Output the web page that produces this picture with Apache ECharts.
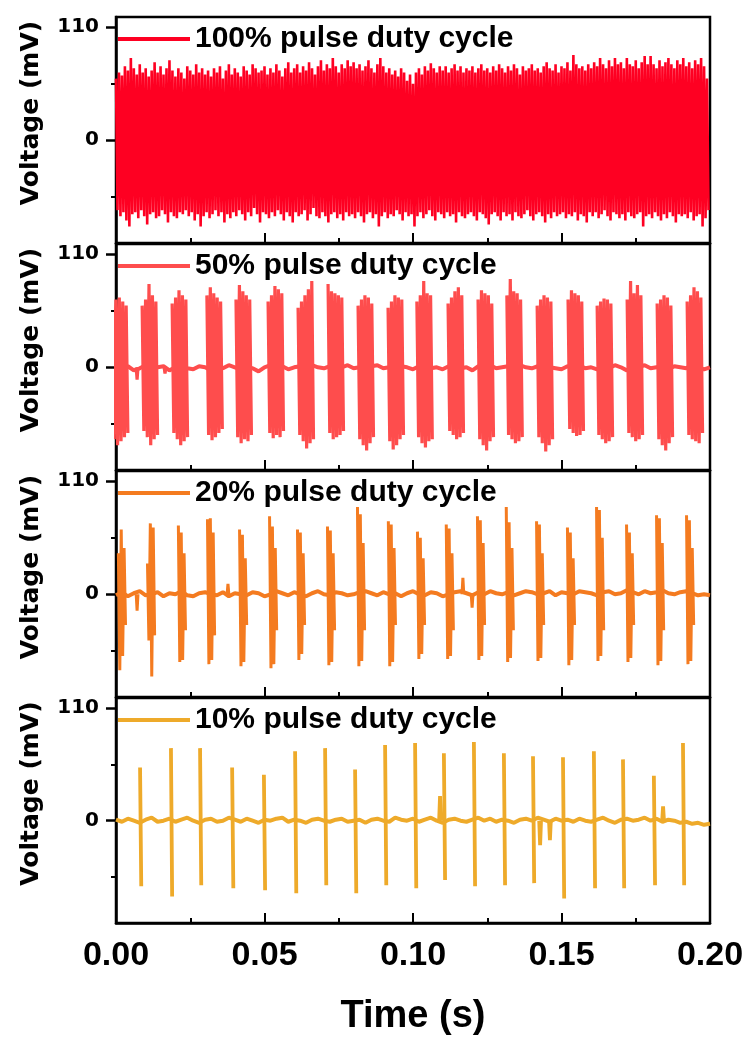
<!DOCTYPE html>
<html lang="en">
<head>
<meta charset="UTF-8">
<title>Voltage vs pulse duty cycle</title>
<script src="https://cdn.jsdelivr.net/npm/echarts@6/dist/echarts.min.js"></script>
<style>html,body{margin:0;padding:0;background:#fff;}</style>
</head>
<body>
<div id="chart" style="width:749px;height:1037px;"></div>
<script>
// panel labels and colours
var names = ['100% pulse duty cycle', '50% pulse duty cycle', '20% pulse duty cycle', '10% pulse duty cycle'];
var colors = ['#fe0022', '#fe4d4d', '#f47b20', '#eeaa2a'];
var yTickLabels = [0, 110];
var yMinorTicks = [-55, 55];

// 100 %: positive / negative peak of each 1 ms period (mV)
var hi100 = [60, 66, 63, 72, 68, 80, 70, 64, 74, 66,
             70, 62, 68, 76, 66, 72, 64, 70, 78, 68,
             62, 70, 66, 60, 72, 68, 64, 74, 66, 70,
             64, 68, 62, 70, 66, 72, 60, 68, 74, 64,
             70, 66, 62, 72, 68, 64, 74, 70, 66, 68,
             72, 64, 70, 66, 74, 68, 62, 70, 76, 66,
             70, 74, 66, 72, 68, 76, 70, 64, 72, 78,
             68, 74, 70, 80, 72, 66, 74, 70, 78, 72,
             76, 70, 74, 68, 72, 78, 70, 66, 74, 80,
             72, 66, 70, 64, 68, 62, 70, 66, 58, 64,
             55, 66, 70, 64, 72, 68, 75, 70, 66, 72,
             68, 72, 66, 70, 74, 68, 72, 66, 70, 68,
             72, 66, 70, 74, 68, 70, 66, 72, 68, 74,
             70, 66, 72, 68, 74, 70, 64, 72, 68, 70,
             74, 68, 70, 66, 72, 76, 70, 68, 74, 66,
             72, 70, 76, 68, 83, 74, 70, 72, 68, 74,
             70, 76, 72, 80, 74, 70, 78, 72, 80, 74,
             76, 70, 80, 74, 72, 78, 70, 76, 82, 74,
             82, 74, 70, 78, 72, 76, 80, 74, 70, 78,
             74, 80, 72, 76, 70, 78, 74, 80, 72, 60];
var lo100 = [-68, -74, -70, -78, -84, -72, -70, -76, -68, -74,
             -82, -72, -70, -76, -74, -68, -72, -80, -70, -74,
             -76, -70, -72, -68, -74, -70, -78, -72, -84, -74,
             -70, -76, -72, -68, -74, -70, -80, -72, -76, -70,
             -74, -68, -72, -78, -70, -74, -66, -72, -80, -70,
             -72, -76, -70, -74, -68, -72, -78, -70, -74, -80,
             -70, -74, -72, -68, -78, -72, -66, -74, -76, -70,
             -74, -80, -72, -70, -76, -72, -78, -70, -74, -72,
             -76, -70, -74, -80, -72, -70, -76, -72, -84, -74,
             -70, -76, -72, -74, -68, -72, -78, -70, -74, -72,
             -84, -74, -70, -76, -72, -68, -74, -78, -70, -72,
             -76, -70, -74, -72, -80, -70, -74, -76, -72, -70,
             -74, -78, -70, -72, -76, -82, -72, -70, -74, -78,
             -70, -74, -72, -78, -70, -74, -76, -72, -68, -74,
             -78, -72, -70, -74, -80, -72, -76, -70, -74, -72,
             -70, -76, -72, -74, -70, -78, -72, -74, -80, -70,
             -74, -70, -76, -72, -68, -74, -78, -70, -72, -76,
             -72, -78, -70, -74, -76, -72, -70, -84, -74, -72,
             -76, -70, -74, -78, -72, -76, -70, -74, -80, -72,
             -74, -72, -76, -70, -78, -74, -72, -84, -76, -68];

// 50 %: burst start times (s) and the peaks inside each burst
var start50 = [-0.0012, 0.0088, 0.0189, 0.0306, 0.0404, 0.0512, 0.0613, 0.0714, 0.0815, 0.0916,
               0.1013, 0.1118, 0.1219, 0.1316, 0.1418, 0.1522, 0.1620, 0.1721, 0.1822, 0.1923];
var hi50 = [[62, 66, 68, 64, 60], [60, 66, 81, 70, 64], [62, 68, 75, 70, 66], [70, 78, 72, 68, 64],
            [66, 80, 74, 70, 66], [64, 70, 79, 76, 72], [58, 64, 70, 76, 84], [81, 74, 72, 70, 68],
            [60, 66, 70, 68, 62], [58, 64, 70, 68, 66], [64, 70, 84, 72, 70], [62, 68, 74, 78, 70],
            [66, 75, 72, 70, 62], [70, 86, 74, 72, 66], [60, 66, 70, 68, 64], [66, 75, 72, 70, 64],
            [60, 64, 67, 66, 62], [66, 84, 72, 80, 70], [62, 66, 70, 68, 60], [64, 70, 78, 74, 68]];
var lo50 = [[-70, -76, -72, -68, -64], [-62, -68, -76, -70, -66], [-64, -70, -76, -72, -68], [-66, -71, -68, -64, -60],
            [-68, -74, -70, -72, -66], [-64, -69, -66, -68, -62], [-66, -72, -79, -74, -70], [-64, -70, -68, -66, -62],
            [-70, -76, -81, -74, -68], [-72, -80, -76, -70, -66], [-68, -74, -78, -72, -70], [-62, -66, -70, -68, -64],
            [-70, -76, -81, -72, -68], [-66, -70, -74, -72, -68], [-68, -74, -82, -76, -70], [-60, -64, -67, -66, -62],
            [-66, -70, -74, -72, -68], [-64, -68, -72, -70, -66], [-70, -76, -81, -74, -68], [-66, -70, -72, -74, -64]];
var blipT50 = [0.0071, 0.0165];
var blipV50 = [-12, -6];
var base50 = [0, -2, 1, -3, -1, 2, -2, 0, 1, -3, 0, 2, -1, -2, 1, 0, -3, 1, -1, 2,
              0, -2, 1, -1, -4, 0, 2, -1, 1, -2, 0, 1, -3, 2, 0, -1, 1, -2, 0, 2,
              -1, 0, -3, 1, 2, -1, 0, -2, 1, 0, -2, 1, 3, -1, 0, -2, 1, 2, -1, 0,
              -3, 1, 0, 2, -1, 0, 1, -2, 2, 0, -1, 1, 3, 0, -1, -2, 1, 0, 2, -1,
              0, -2, 1, -1, 2, 0, -3, 1, 0, 2, -1, 0, 2, -2, 1, 0, -1, 3, 0, -2, 0];

// 20 %
var start20 = [0.0008, 0.0106, 0.0210, 0.0308, 0.0416, 0.0517, 0.0611, 0.0712, 0.0813, 0.0917,
               0.1015, 0.1112, 0.1217, 0.1314, 0.1416, 0.1520, 0.1618, 0.1719, 0.1820, 0.1921];
var hi20 = [[40, 63, 45], [30, 69, 65], [67, 60, 40], [73, 74, 60], [63, 58, 35],
            [76, 66, 45], [63, 60, 40], [66, 62, 40], [85, 78, 50], [71, 68, 45],
            [61, 55, 35], [68, 64, 40], [76, 72, 50], [85, 70, 45], [71, 68, 40],
            [65, 60, 35], [85, 82, 55], [68, 60, 40], [77, 74, 50], [77, 72, 45]];
var lo20 = [[-74, -60, -30], [-45, -80, -40], [-66, -64, -35], [-68, -64, -40], [-70, -66, -30],
            [-72, -68, -35], [-64, -58, -30], [-69, -66, -35], [-70, -65, -35], [-70, -66, -30],
            [-63, -58, -30], [-63, -60, -35], [-64, -60, -30], [-66, -62, -35], [-65, -62, -30],
            [-69, -64, -30], [-65, -60, -35], [-66, -62, -30], [-69, -65, -35], [-68, -65, -30]];
var blipT20 = [0.0071, 0.0377, 0.1168, 0.1199];
var blipV20 = [-16, 10, 16, -13];
var base20 = [-1, 2, -2, 1, 3, -1, 0, 2, -2, 1, 0, 3, -1, -2, 1, 2, 0, -1, 2, -2,
              1, 0, -1, 2, 1, -2, 0, 3, 1, -1, 2, 0, -2, 1, 3, 0, -1, 2, 1, -1,
              0, 2, 3, 1, -1, 2, 0, 1, -2, 1, 3, 0, -1, 2, 1, -2, 0, 2, 3, 1,
              -1, 2, 0, 3, 1, 0, 2, -1, 1, 3, 2, 0, 1, 3, -1, 2, 1, 0, 3, 2,
              1, -1, 2, 3, 0, 1, 4, 2, 0, 3, 1, 2, 4, 1, 0, 2, 3, 1, -1, 0, -1];

// 10 %
var start10 = [0.0081, 0.0185, 0.0283, 0.0391, 0.0498, 0.0603, 0.0704, 0.0805, 0.0906, 0.1007,
               0.1104, 0.1205, 0.1306, 0.1404, 0.1505, 0.1609, 0.1707, 0.1811, 0.1909];
var hi10 = [52, 71, 71, 52, 45, 68, 71, 50, 74, 76, 66, 77, 66, 63, 62, 68, 60, 44, 76];
var lo10 = [-64, -74, -63, -66, -68, -71, -63, -71, -63, -66, -58, -64, -63, -61, -76, -66, -66, -63, -63];
var blipT10 = [0.1091, 0.1428, 0.1461, 0.1842];
var blipV10 = [24, -24, -19, 14];
var base10 = [1, -1, 2, 0, -2, 1, 3, -1, 0, 2, -1, 1, 3, 0, -2, 1, 2, -1, 0, 3,
              1, -1, 2, 0, -2, 1, 0, 2, 3, -1, 1, 0, -2, 1, 2, 0, -1, 1, 2, -1,
              0, 1, -2, 1, 2, 0, -1, 3, 1, 0, 2, -1, 1, 3, 0, -2, 1, 2, 0, -1,
              1, 3, 0, 2, -1, 1, 0, -2, 1, 2, 0, 3, 1, -1, 2, 0, 1, -1, 2, 0,
              -1, 1, 3, 0, -2, 1, 2, 0, 1, 3, 0, 2, -1, 1, 0, -2, -1, -3, -2, -4, -3];

// ---- helpers that turn the peak lists into line points ----
function zigzag(hi, lo, step) {
    var d = [];
    for (var i = 0; i < hi.length; i++) {
        d.push([i * step, hi[i]]);
        d.push([i * step + step / 2, lo[i]]);
    }
    return d;
}
function baseline(vals, step) {
    return vals.map(function (v, i) { return [i * step, v]; });
}
function bursts(starts, width, his, los) {
    var d = [];
    starts.forEach(function (t0, k) {
        var h = [].concat(his[k]), l = [].concat(los[k]);
        var dt = width / (h.length * 2 - 1);
        h.forEach(function (v, j) {
            d.push([t0 + 2 * j * dt, v]);
            d.push([t0 + (2 * j + 1) * dt, l[j]]);
        });
        d.push([t0 + width, '-']);
    });
    return d;
}
function blips(ts, vs) {
    var d = [];
    ts.forEach(function (t, k) {
        d.push([t - 0.0003, 0], [t, vs[k]], [t + 0.0003, 0], [t + 0.0004, '-']);
    });
    return d;
}

var panelData = [
    { base: null, marks: zigzag(hi100, lo100, 0.001), width: 2.6 },
    { base: baseline(base50, 0.002), marks: bursts(start50, 0.0052, hi50, lo50).concat(blips(blipT50, blipV50)), width: 3.2 },
    { base: baseline(base20, 0.002), marks: bursts(start20, 0.0024, hi20, lo20).concat(blips(blipT20, blipV20)), width: 3 },
    { base: baseline(base10, 0.002), marks: bursts(start10, 0.0004, hi10, lo10).concat(blips(blipT10, blipV10)), width: 3.8 }
];

var tops = [17, 244, 471, 698];
var panelH = 226;
var black = '#000';

var grids = [], xAxes = [], yAxes = [], legends = [], series = [];
tops.forEach(function (top, i) {
    var last = i === tops.length - 1;
    grids.push({ left: 116, right: 39, top: top, height: panelH, show: true,
        borderColor: black, borderWidth: 2.5, backgroundColor: 'transparent' });
    xAxes.push({
        gridIndex: i, type: 'value', min: 0, max: 0.2, interval: 0.05,
        axisLine: { onZero: false, lineStyle: { color: black, width: 2.5 } },
        axisTick: { inside: true, length: 10, lineStyle: { color: black, width: 2 } },
        minorTick: { show: true, splitNumber: 2, length: 5, lineStyle: { color: black, width: 2 } },
        splitLine: { show: false },
        axisLabel: { show: last, margin: 16, fontSize: 34, fontWeight: 'bold', color: black,
            fontFamily: 'Liberation Sans', formatter: function (v) { return v.toFixed(2); } },
        name: last ? 'Time (s)' : '', nameLocation: 'middle', nameGap: 75,
        nameTextStyle: { fontSize: 38, fontWeight: 'bold', color: black, fontFamily: 'Liberation Sans' }
    });
    // main y axis: labelled ticks at 0 and 110
    yAxes.push({
        gridIndex: i, type: 'value', min: -100, max: 120,
        axisLine: { show: true, lineStyle: { color: black, width: 2.5 } },
        axisTick: { show: true, customValues: yTickLabels, length: 10, lineStyle: { color: black, width: 2.5 } },
        axisLabel: { customValues: yTickLabels, margin: 17, fontSize: 20, fontWeight: 'bold',
            color: black, fontFamily: 'DejaVu Sans' },
        splitLine: { show: false },
        name: 'Voltage (mV)', nameLocation: 'middle', nameGap: 72,
        nameTextStyle: { fontSize: 25, fontWeight: 'bold', color: black, fontFamily: 'DejaVu Sans',
            padding: [0, 0, 0, 34] }
    });
    // short unlabeled ticks at +-55
    yAxes.push({
        gridIndex: i, type: 'value', min: -100, max: 120, position: 'left',
        axisLine: { show: false },
        axisTick: { show: true, customValues: yMinorTicks, length: 5, lineStyle: { color: black, width: 2 } },
        axisLabel: { show: false },
        splitLine: { show: false }
    });
    legends.push({
        data: [names[i]], left: 113, top: top + 2, icon: 'rect', itemWidth: 72, itemHeight: 4,
        selectedMode: false,
        textStyle: { fontSize: 30, fontWeight: 'bold', color: black, fontFamily: 'Liberation Sans' }
    });
    if (panelData[i].base) {
        series.push({ name: names[i], type: 'line', xAxisIndex: i, yAxisIndex: i * 2,
            data: panelData[i].base, showSymbol: false, color: colors[i],
            lineStyle: { width: 4 }, animation: false });
    }
    series.push({ name: names[i], type: 'line', xAxisIndex: i, yAxisIndex: i * 2,
        data: panelData[i].marks, showSymbol: false, connectNulls: false, color: colors[i],
        lineStyle: { width: panelData[i].width }, animation: false });
});

var chart = echarts.init(document.getElementById('chart'));
chart.setOption({
    backgroundColor: '#fff',
    animation: false,
    grid: grids,
    xAxis: xAxes,
    yAxis: yAxes,
    legend: legends,
    series: series
});
</script>
</body>
</html>
